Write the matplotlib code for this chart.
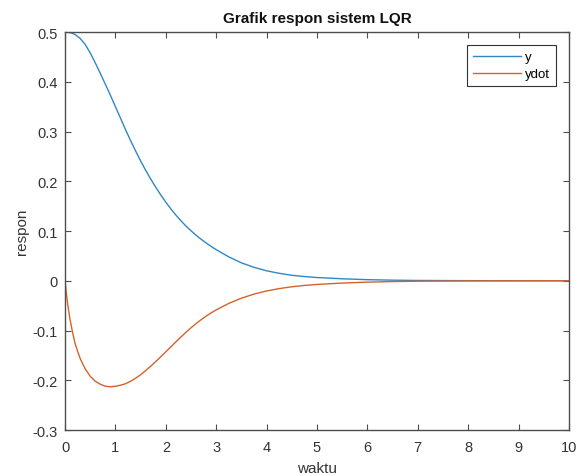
import matplotlib
matplotlib.use("Agg")
import matplotlib.pyplot as plt

plt.rcParams['font.family'] = ['Liberation Sans', 'DejaVu Sans']

waktu_y = [0, 0.1, 0.2, 0.3, 0.4, 0.5, 0.6, 0.7, 0.8, 0.9, 1.0, 1.1, 1.2,
           1.3, 1.4, 1.5, 1.6, 1.7, 1.8, 1.9, 2.0, 2.1, 2.2, 2.3, 2.4, 2.5,
           2.6, 2.7, 2.8, 2.9, 3.0, 3.25, 3.5, 3.75, 4.0, 4.25, 4.5, 4.75,
           5.0, 5.5, 6.0, 6.5, 7.0, 8.0, 9.0, 10.0]
y = [0.5, 0.499, 0.495, 0.487, 0.475, 0.458, 0.438, 0.417, 0.395, 0.373,
     0.350, 0.327, 0.304, 0.282, 0.261, 0.241, 0.222, 0.2045, 0.188, 0.1725,
     0.158, 0.1445, 0.132, 0.1205, 0.110, 0.1005, 0.0915, 0.0835, 0.076,
     0.069, 0.0625, 0.048, 0.036, 0.027, 0.020, 0.015, 0.011, 0.0085,
     0.0065, 0.004, 0.0022, 0.0012, 0.0006, 0.0002, 0.00005, 0.0]

waktu_ydot = [0, 0.025, 0.05, 0.075, 0.1, 0.15, 0.2, 0.25, 0.3, 0.35, 0.4,
              0.5, 0.6, 0.7, 0.8, 0.9, 1.0, 1.1, 1.2, 1.3, 1.4, 1.5, 1.6,
              1.7, 1.8, 1.9, 2.0, 2.1, 2.2, 2.3, 2.4, 2.5, 2.6, 2.7, 2.8,
              2.9, 3.0, 3.25, 3.5, 3.75, 4.0, 4.25, 4.5, 4.75, 5.0, 5.5,
              6.0, 6.5, 7.0, 8.0, 9.0, 10.0]
ydot = [0.0, -0.024, -0.045, -0.062, -0.078, -0.104, -0.126, -0.142, -0.156,
        -0.167, -0.177, -0.192, -0.202, -0.208, -0.212, -0.213, -0.212,
        -0.210, -0.207, -0.202, -0.196, -0.189, -0.1805, -0.1718, -0.1624,
        -0.1528, -0.1429, -0.1328, -0.1228, -0.1130, -0.1035, -0.0945,
        -0.0861, -0.0783, -0.0711, -0.0645, -0.0585, -0.0455, -0.0350,
        -0.0268, -0.0205, -0.0157, -0.0121, -0.0094, -0.0074, -0.0046,
        -0.0028, -0.0016, -0.0009, -0.0003, -0.0001, 0.0]

xticks = [0, 1, 2, 3, 4, 5, 6, 7, 8, 9, 10]
yticks = [-0.3, -0.2, -0.1, 0, 0.1, 0.2, 0.3, 0.4, 0.5]
yticklabels = ['-0.3', '-0.2', '-0.1', '0', '0.1', '0.2', '0.3', '0.4', '0.5']

fig = plt.figure(figsize=(5.79, 4.77), dpi=100)
ax = fig.add_axes([0.1123, 0.0964, 0.8704, 0.8344])

ax.plot(waktu_y, y, color='#2f88c4', lw=1.0, label='y')
ax.plot(waktu_ydot, ydot, color='#d4622a', lw=1.0, label='ydot')

ax.set_xlim(0, 10)
ax.set_ylim(-0.3, 0.5)
ax.set_xticks(xticks)
ax.set_xticklabels([str(t) for t in xticks])
ax.set_yticks(yticks)
ax.set_yticklabels(yticklabels)

axc = '#4d4d4d'
for s in ax.spines.values():
    s.set_color(axc)
    s.set_linewidth(1.0)
ax.tick_params(direction='in', top=True, right=True, length=4, width=0.8,
               color=axc, labelcolor='#333333', labelsize=10.5)
ax.tick_params(axis='x', pad=7)
ax.tick_params(axis='y', pad=5)

ax.set_title('Grafik respon sistem LQR', fontsize=11, fontweight='bold',
             color='#111111', pad=7)
ax.set_xlabel('waktu', fontsize=11, color='#333333', labelpad=5)
ax.set_ylabel('respon', fontsize=11, color='#333333', labelpad=3)

leg = ax.legend(loc='upper right', fontsize=9.5, frameon=True, fancybox=False,
                edgecolor='#333333', framealpha=1, handlelength=3.6,
                handletextpad=0.3, borderpad=0.45, labelspacing=0.35,
                borderaxespad=1.0)
leg.get_frame().set_linewidth(0.8)

fig.savefig('out.png', dpi=100, facecolor='white')
